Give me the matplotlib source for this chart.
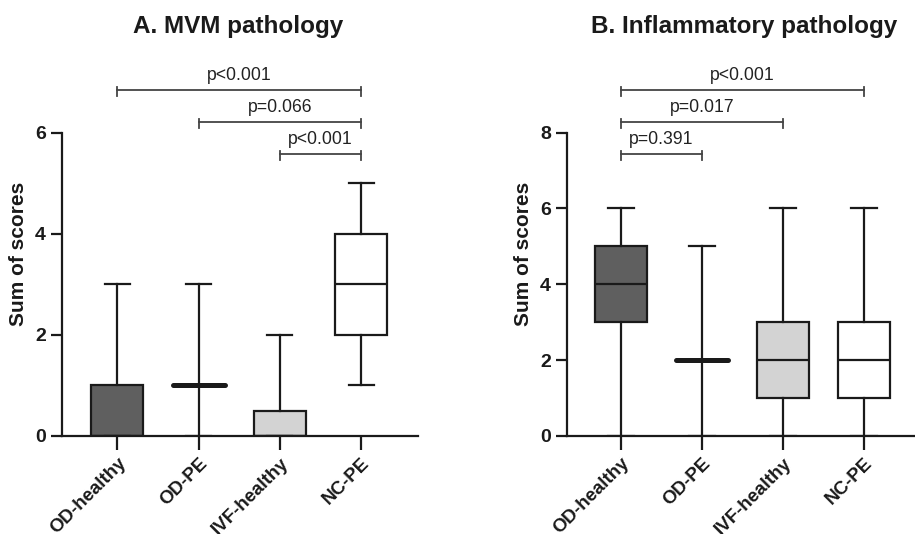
import matplotlib.pyplot as plt
import numpy as np

plt.rcParams['font.family'] = ['Liberation Sans', 'DejaVu Sans']

groups = ['OD-healthy', 'OD-PE', 'IVF-healthy', 'NC-PE']
colors = ['#5f5f5f', '#5f5f5f', '#d3d3d3', '#ffffff']

# box stats: min, q1, median, q3, max
mvm_min = [0, 0, 0, 1]
mvm_q1 = [0, 1, 0, 2]
mvm_med = [0, 1, 0, 3]
mvm_q3 = [1, 1, 0.5, 4]
mvm_max = [3, 3, 2, 5]

inf_min = [0, 0, 0, 0]
inf_q1 = [3, 2, 1, 1]
inf_med = [4, 2, 2, 2]
inf_q3 = [5, 2, 3, 3]
inf_max = [6, 5, 6, 6]

# comparisons: (group a, group b, height, label)
mvm_pairs = [(0, 3, 6.85, 'p<0.001'), (1, 3, 6.22, 'p=0.066'), (2, 3, 5.58, 'p<0.001')]
inf_pairs = [(0, 3, 9.13, 'p<0.001'), (0, 2, 8.28, 'p=0.017'), (0, 1, 7.44, 'p=0.391')]

W, H = 915, 534
fig = plt.figure(figsize=(W / 100, H / 100), dpi=100)


def panel(rect, mins, q1s, meds, q3s, maxs, pairs, ymax, ytop, xlim, title, title_x):
    ax = fig.add_axes([rect[0] / W, 1 - rect[1] / H, rect[2] / W, rect[3] / H])
    stats = []
    for i in range(len(groups)):
        stats.append(dict(whislo=mins[i], q1=q1s[i], med=meds[i], q3=q3s[i],
                          whishi=maxs[i], fliers=[]))
    bp = ax.bxp(stats, positions=range(len(groups)), widths=0.64, capwidths=0.31,
                patch_artist=True, showfliers=False,
                boxprops=dict(linewidth=1.6, edgecolor='#1a1a1a'),
                whiskerprops=dict(linewidth=1.6, color='#1a1a1a'),
                capprops=dict(linewidth=1.6, color='#1a1a1a'),
                medianprops=dict(linewidth=1.6, color='#1a1a1a'))
    for patch, c in zip(bp['boxes'], colors):
        patch.set_facecolor(c)
    for i, m in enumerate(bp['medians']):
        if q1s[i] == q3s[i]:
            m.set_linewidth(3.6)
            m.set_solid_capstyle('round')

    ax.set_xlim(*xlim)
    ax.set_ylim(0, ytop)
    ax.set_yticks(np.arange(0, ymax + 1, 2))
    ax.spines['left'].set_bounds(0, ymax)
    ax.spines['top'].set_visible(False)
    ax.spines['right'].set_visible(False)
    for s in ['left', 'bottom']:
        ax.spines[s].set_linewidth(1.6)
        ax.spines[s].set_color('#1a1a1a')
    ax.tick_params(axis='x', direction='out', length=10, width=1.6, color='#1a1a1a')
    ax.tick_params(axis='y', direction='out', length=8, width=1.6, color='#1a1a1a')
    ax.set_xticks(range(len(groups)))
    ax.set_xticklabels(groups, rotation=45, ha='right', rotation_mode='anchor',
                       fontsize=13.5, fontweight='bold', color='#1a1a1a')
    for lab in ax.get_yticklabels():
        lab.set_fontsize(14)
        lab.set_fontweight('bold')
        lab.set_color('#1a1a1a')
    ax.set_ylabel('Sum of scores', fontsize=15, fontweight='bold', labelpad=5,
                  color='#1a1a1a')

    unit = rect[3] / ytop
    for a, b, y, txt in pairs:
        ax.plot([a, b], [y, y], color='#444444', lw=1.3, clip_on=False)
        for xx in (a, b):
            ax.plot([xx, xx], [y + 3 / unit, y - 6 / unit], color='#444444', lw=1.3,
                    clip_on=False)
        ax.text((a + b) / 2, y + 6 / unit, txt, ha='center', va='bottom', fontsize=12.7,
                color='#222222', clip_on=False)

    fig.text(title_x / W, 1 - 26 / H, title, ha='center', va='center', fontsize=17.5,
             fontweight='bold', color='#1a1a1a')
    return ax


panel((62, 436, 356, 364), mvm_min, mvm_q1, mvm_med, mvm_q3, mvm_max, mvm_pairs,
      6, 7.2, (-0.68, 3.70), 'A. MVM pathology', 238)
panel((567, 436, 348, 364), inf_min, inf_q1, inf_med, inf_q3, inf_max, inf_pairs,
      8, 9.6, (-0.667, 3.63), 'B. Inflammatory pathology', 744)

plt.savefig('out.png', dpi=100, facecolor='white')
